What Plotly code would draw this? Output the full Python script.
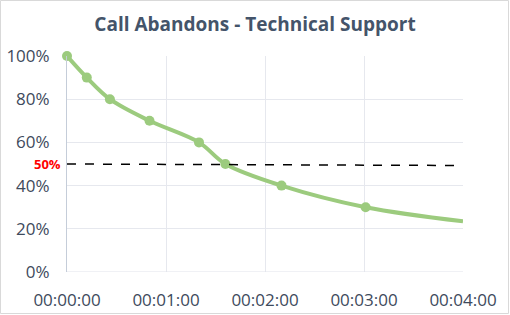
import plotly.graph_objects as go

# Data
seconds = [0, 12, 26, 50, 80, 96, 130, 181, 240]
abandon_rate = [1.00, 0.90, 0.80, 0.70, 0.60, 0.50, 0.40, 0.30, 0.235]
marker_points = 8  # last point has no marker
threshold_x = [0, 240]
threshold_y = [0.50, 0.493]
x_tickvals = [0, 60, 120, 180, 240]
x_ticktext = ["00:00:00", "00:01:00", "00:02:00", "00:03:00", "00:04:00"]
y_tickvals = [0, 0.2, 0.4, 0.6, 0.8, 1.0]

GREEN = "#9ccb7e"
TXT = "#3e4a5c"
FONT = "Open Sans"

fig = go.Figure()
fig.add_trace(go.Scatter(
    x=seconds, y=abandon_rate, mode="lines",
    line=dict(color=GREEN, width=4, shape="spline", smoothing=1.0),
    cliponaxis=False, hoverinfo="skip", showlegend=False))
fig.add_trace(go.Scatter(
    x=seconds[:marker_points], y=abandon_rate[:marker_points], mode="markers",
    marker=dict(color=GREEN, size=10),
    cliponaxis=False, showlegend=False))
fig.add_trace(go.Scatter(
    x=threshold_x, y=threshold_y, mode="lines",
    line=dict(color="black", width=1.5, dash="dash"),
    showlegend=False, hoverinfo="skip"))

L, R, T, B = 67, 47, 56, 43
W, H = 510, 315
pw, ph = W - L - R, H - T - B

fig.update_layout(
    width=W, height=H,
    margin=dict(l=L, r=R, t=T, b=B, autoexpand=False),
    paper_bgcolor="white", plot_bgcolor="white",
    title=dict(text="<b>Call Abandons - Technical Support</b>",
               x=0.5, xanchor="center", y=1 - 24 / H, yanchor="middle",
               font=dict(family=FONT, size=19, color="#44546a")),
    font=dict(family=FONT, size=17, color=TXT),
    xaxis=dict(range=[0, 240], tickvals=x_tickvals, ticktext=x_ticktext,
               automargin=False,
               showgrid=True, gridcolor="#e6e8ee", gridwidth=1,
               zeroline=False, showline=False,
               ticks="outside", ticklen=13, tickcolor="rgba(0,0,0,0)",
               tickfont=dict(family=FONT, size=17, color=TXT)),
    yaxis=dict(range=[0, 1], tickvals=y_tickvals, tickformat=".0%",
               automargin=False,
               showgrid=True, gridcolor="#e6e8ee", gridwidth=1,
               zeroline=False, showline=True, linecolor="#c5cdd9", linewidth=1,
               ticks="outside", ticklen=13, tickcolor="rgba(0,0,0,0)",
               tickfont=dict(family=FONT, size=17, color=TXT)),
    shapes=[
        dict(type="line", xref="paper", yref="y", x0=0, x1=1, y0=0, y1=0,
             line=dict(color="#e0e3ea", width=1)),
        dict(type="rect", xref="paper", yref="paper",
             x0=(0.5 - L) / pw, x1=(W - 1.5 - L) / pw,
             y0=-(B - 1.5) / ph, y1=1 + (T - 0.5) / ph,
             line=dict(color="#d9d9d9", width=1), layer="below"),
    ],
    annotations=[dict(text="<b>50%</b>", xref="paper", yref="y",
                      x=-4 / pw, y=0.5, xanchor="right", yanchor="middle",
                      showarrow=False,
                      font=dict(family=FONT, size=13, color="#ff0000"))],
)

fig.write_html("out.html")
